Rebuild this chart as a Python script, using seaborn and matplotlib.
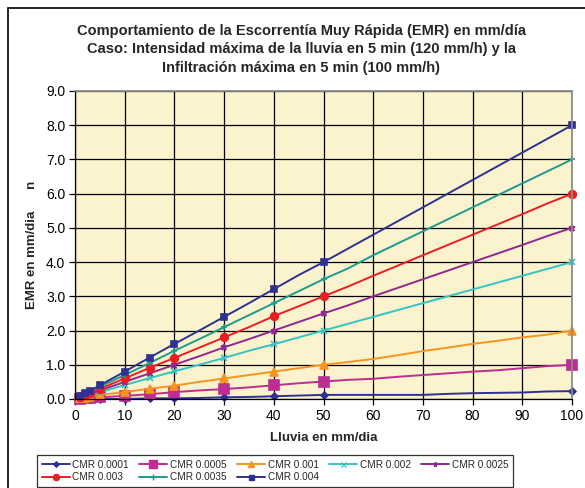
import matplotlib
matplotlib.use("Agg")
import matplotlib.pyplot as plt
import seaborn as sns
import pandas as pd
from matplotlib.patches import Rectangle
from matplotlib.lines import Line2D

# ---- data ----
lluvia = [1, 2, 3, 5, 10, 15, 20, 25, 30, 35, 40, 45, 50, 55, 60, 65, 70, 75, 80, 85, 90, 95, 100]
marker_x = [1, 2, 3, 5, 10, 15, 20, 30, 40, 50, 100]

series_names = ["CMR 0.0001", "CMR 0.0005", "CMR 0.001", "CMR 0.002",
                "CMR 0.0025", "CMR 0.003", "CMR 0.0035", "CMR 0.004"]

cmr_0001 = [0.00, 0.00, 0.00, 0.00, 0.00, 0.02, 0.02, 0.03, 0.05, 0.06, 0.08, 0.10, 0.12, 0.12,
            0.12, 0.12, 0.12, 0.15, 0.17, 0.18, 0.19, 0.22, 0.23]
cmr_0005 = [0.01, 0.02, 0.03, 0.05, 0.09, 0.14, 0.20, 0.25, 0.29, 0.34, 0.40, 0.46, 0.51, 0.56,
            0.59, 0.65, 0.70, 0.75, 0.80, 0.84, 0.90, 0.96, 1.00]
cmr_001 = [0.02, 0.04, 0.07, 0.12, 0.20, 0.30, 0.39, 0.50, 0.60, 0.70, 0.80, 0.90, 1.00, 1.08,
           1.17, 1.28, 1.40, 1.50, 1.61, 1.70, 1.80, 1.88, 2.00]
cmr_002 = [0.05, 0.09, 0.13, 0.20, 0.41, 0.61, 0.81, 1.00, 1.20, 1.41, 1.60, 1.80, 2.00, 2.20,
           2.40, 2.60, 2.80, 3.00, 3.20, 3.40, 3.60, 3.80, 4.00]
cmr_0025 = [0.06, 0.11, 0.15, 0.25, 0.50, 0.75, 1.00, 1.25, 1.51, 1.75, 2.00, 2.25, 2.50, 2.74,
            3.00, 3.25, 3.50, 3.75, 4.00, 4.25, 4.50, 4.76, 5.00]
cmr_003 = [0.07, 0.13, 0.18, 0.30, 0.60, 0.91, 1.20, 1.50, 1.80, 2.10, 2.42, 2.71, 3.00, 3.29,
           3.60, 3.90, 4.20, 4.50, 4.80, 5.10, 5.40, 5.71, 6.00]
cmr_0035 = [0.08, 0.15, 0.22, 0.36, 0.70, 1.05, 1.41, 1.75, 2.10, 2.45, 2.80, 3.15, 3.50, 3.82,
            4.20, 4.55, 4.90, 5.25, 5.60, 5.95, 6.30, 6.65, 7.00]
cmr_004 = [0.09, 0.17, 0.24, 0.40, 0.80, 1.21, 1.61, 2.00, 2.40, 2.80, 3.21, 3.62, 4.00, 4.40,
           4.80, 5.20, 5.60, 6.00, 6.40, 6.80, 7.20, 7.60, 8.00]

all_values = [cmr_0001, cmr_0005, cmr_001, cmr_002, cmr_0025, cmr_003, cmr_0035, cmr_004]

colors = ["#2E3192", "#BE2D91", "#F7941D", "#35C3C3", "#92278F", "#ED1C24", "#1E9A8E", "#2E3192"]
markers = ["D", "s", "^", "x", "*", "o", "+", "s"]
msizes = [3.5, 6.5, 5.5, 4.5, 4.5, 5.5, 5, 4.5]

df = pd.DataFrame({"Lluvia": lluvia})
for n, v in zip(series_names, all_values):
    df[n] = v

sns.set_style("white")
plt.rcParams["font.family"] = ["Liberation Sans", "DejaVu Sans"]

fig = plt.figure(figsize=(5.85, 4.88), dpi=100)
ax = fig.add_axes([75 / 585, 1 - 399 / 488, 497 / 585, 308 / 488])
ax.set_facecolor("#FAF3CD")

mark_idx = [lluvia.index(v) for v in marker_x]
for name, c, m, ms in zip(series_names, colors, markers, msizes):
    sns.lineplot(data=df, x="Lluvia", y=name, ax=ax, color=c, marker=m,
                 markersize=ms, markevery=mark_idx, linewidth=1.4,
                 markeredgecolor=c, markerfacecolor=c, markeredgewidth=1.2,
                 clip_on=False, legend=False)

ax.set_xlim(0, 100)
ax.set_ylim(0, 9)
ax.set_xticks(range(0, 101, 10))
ax.set_yticks([i for i in range(0, 10)])
ax.set_yticklabels([f"{i:.1f}" for i in range(0, 10)])
ax.grid(True, color="black", linewidth=0.9)
ax.set_axisbelow(True)
ax.tick_params(axis="both", direction="out", length=4, width=0.9, colors="black",
               labelsize=10, pad=3, left=True, bottom=True)
for s in ["top", "right"]:
    ax.spines[s].set_color("#8C8C8C")
    ax.spines[s].set_linewidth(1.3)
for s in ["left", "bottom"]:
    ax.spines[s].set_color("black")
    ax.spines[s].set_linewidth(0.9)

ax.set_xlabel("Lluvia en mm/dia", fontsize=9.5, fontweight="bold", labelpad=7)
ax.set_ylabel("EMR en mm/dia      n", fontsize=9.5, fontweight="bold", labelpad=6)

fig.text(0.515, 1 - 24 / 488,
         "Comportamiento de la Escorrentía Muy Rápida (EMR) en mm/día\n"
         "Caso: Intensidad máxima de la lluvia en 5 min (120 mm/h) y la\n"
         "Infiltración máxima en 5 min (100 mm/h)",
         ha="center", va="top", fontsize=10.5, fontweight="bold", linespacing=1.4)

# legend: row-major order like the reference
handles = [Line2D([], [], color=c, marker=m, markersize=ms * 0.8,
                  markeredgecolor=c, markerfacecolor=c, linewidth=1.4)
           for c, m, ms in zip(colors, markers, msizes)]
order = [0, 5, 1, 6, 2, 7, 3, 4]
leg = fig.legend([handles[i] for i in order], [series_names[i] for i in order],
                 ncol=5, loc="upper left",
                 bbox_to_anchor=(37 / 585, 1 - 455 / 488, 476 / 585, 0),
                 mode="expand", fontsize=7.2, frameon=True, fancybox=False,
                 edgecolor="black", handlelength=2.8, handletextpad=0.3,
                 borderpad=0.45, labelspacing=0.25, columnspacing=0.8,
                 borderaxespad=0)
leg.get_frame().set_linewidth(0.9)

fig.patches.append(Rectangle((8 / 585, -0.05), 1.0, 1 - 8 / 488 + 0.05,
                             transform=fig.transFigure, fill=False,
                             edgecolor="black", linewidth=1.2))

fig.savefig("out.png", dpi=100)
